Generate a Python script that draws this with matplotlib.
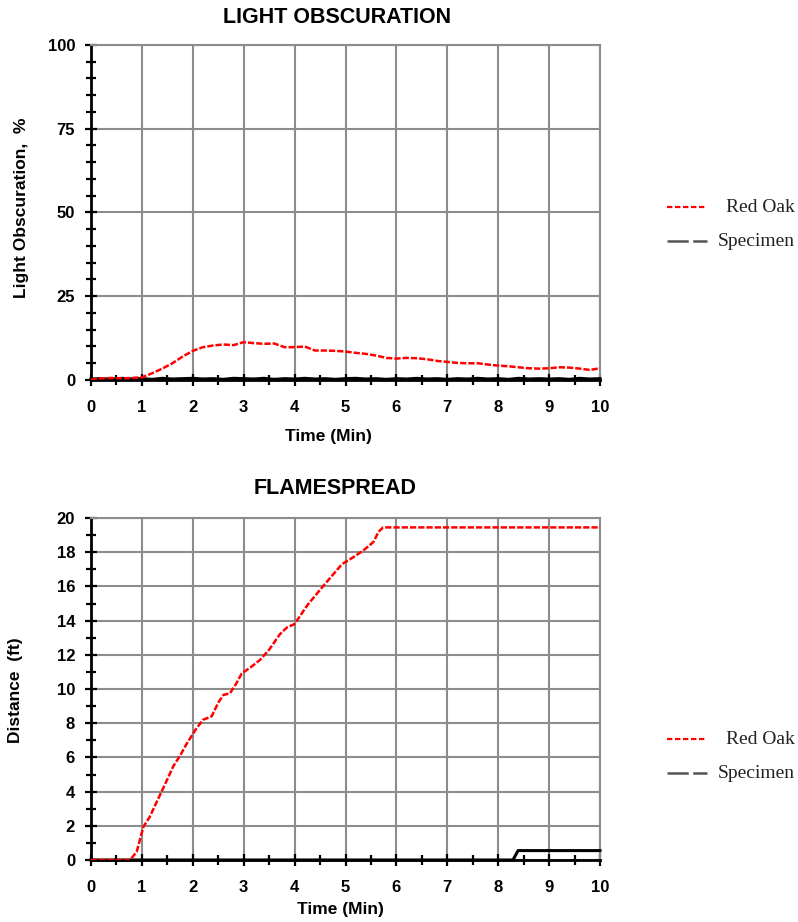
import matplotlib
matplotlib.use("Agg")
import matplotlib.pyplot as plt
from matplotlib.ticker import MultipleLocator
from matplotlib.lines import Line2D
from matplotlib.font_manager import FontProperties

# ---------------- data ----------------
# Light obscuration (%) vs time (min)
lo_time = [0.0, 0.2, 0.4, 0.6, 0.8, 1.0, 1.2, 1.4, 1.6, 1.8, 2.0, 2.2, 2.4, 2.6, 2.8,
           3.0, 3.2, 3.4, 3.6, 3.8, 4.0, 4.2, 4.4, 4.6, 4.8, 5.0, 5.2, 5.4, 5.6, 5.8,
           6.0, 6.2, 6.4, 6.6, 6.8, 7.0, 7.2, 7.4, 7.6, 7.8, 8.0, 8.2, 8.4, 8.6, 8.8,
           9.0, 9.2, 9.4, 9.6, 9.8, 10.0]
lo_red_oak = [0.1, 0.5, 0.6, 0.5, 0.6, 0.8, 2.0, 3.4, 5.0, 7.0, 8.7, 9.8, 10.3, 10.6, 10.4,
              11.3, 11.0, 10.8, 10.9, 9.8, 9.8, 10.0, 8.8, 8.8, 8.7, 8.5, 8.1, 7.8, 7.3, 6.6,
              6.4, 6.6, 6.5, 6.2, 5.7, 5.4, 5.1, 5.0, 5.0, 4.6, 4.3, 4.1, 3.8, 3.5, 3.4,
              3.5, 3.8, 3.7, 3.4, 3.0, 3.5]
lo_specimen = [0.3, 0.4, 0.2, 0.5, 0.3, 0.4, 0.2, 0.5, 0.3, 0.4, 0.5, 0.3, 0.4, 0.2, 0.5,
               0.4, 0.3, 0.5, 0.2, 0.4, 0.3, 0.5, 0.3, 0.4, 0.2, 0.4, 0.5, 0.3, 0.4, 0.2,
               0.4, 0.3, 0.5, 0.3, 0.4, 0.2, 0.4, 0.3, 0.5, 0.3, 0.4, 0.2, 0.5, 0.3, 0.4,
               0.3, 0.4, 0.2, 0.5, 0.3, 0.4]

# Flamespread distance (ft) vs time (min)
fs_time_oak = [0.0, 0.5, 0.77, 0.9, 1.03, 1.15, 1.26, 1.45, 1.62, 1.75, 1.88, 2.05, 2.2,
               2.37, 2.5, 2.6, 2.73, 2.85, 2.96, 3.15, 3.32, 3.5, 3.71, 3.85, 4.0, 4.25,
               4.5, 4.7, 4.93, 5.15, 5.35, 5.55, 5.65, 5.74, 6.0, 7.0, 8.0, 9.0, 10.0]
fs_red_oak = [0.0, 0.0, 0.0, 0.5, 1.95, 2.5, 3.2, 4.4, 5.5, 6.1, 6.8, 7.6, 8.2,
              8.4, 9.2, 9.65, 9.75, 10.3, 10.9, 11.3, 11.7, 12.3, 13.2, 13.6, 13.8, 14.9,
              15.8, 16.5, 17.3, 17.7, 18.1, 18.6, 19.2, 19.45, 19.45, 19.45, 19.45, 19.45, 19.45]
fs_time_spec = [0.0, 8.29, 8.39, 10.0]
fs_specimen = [0.0, 0.0, 0.55, 0.55]

series_labels = ["Red Oak", "Specimen"]

# ---------------- style ----------------
W, H = 798, 922
fig = plt.figure(figsize=(W / 100, H / 100), dpi=100)

tick_fp = FontProperties(family="Liberation Sans", weight="bold", size=12)
label_font = dict(family="Liberation Sans", weight="bold", size=12.5)
title_font = dict(family="Liberation Sans", weight="bold", size=15.5)
grid_color = "#8c8c8c"
red_ls = (0, (2.5, 0.8))


def style_axes(ax, ymax, ymajor, yminor):
    ax.set_xlim(0, 10)
    ax.set_ylim(0, ymax)
    ax.xaxis.set_major_locator(MultipleLocator(1))
    ax.xaxis.set_minor_locator(MultipleLocator(0.5))
    ax.yaxis.set_major_locator(MultipleLocator(ymajor))
    ax.yaxis.set_minor_locator(MultipleLocator(yminor))
    ax.grid(True, which="major", color=grid_color, linewidth=1.5, zorder=0)
    ax.set_axisbelow(True)
    for s in ("top", "right"):
        ax.spines[s].set_color(grid_color)
        ax.spines[s].set_linewidth(1.5)
    for s in ("left", "bottom"):
        ax.spines[s].set_color("black")
        ax.spines[s].set_linewidth(2)
    ax.tick_params(which="major", direction="inout", length=9, width=1.6, color="black")
    ax.tick_params(which="minor", direction="inout", length=7, width=1.6, color="black")
    ax.tick_params(axis="x", which="major", pad=10)
    ax.tick_params(axis="y", which="major", pad=7)
    for lab in ax.get_xticklabels() + ax.get_yticklabels():
        lab.set_fontproperties(tick_fp)


def add_legend(y_rows):
    styles = [dict(color="red", linestyle=(0, (2.4, 1.2)), linewidth=1.6),
              dict(color="#555555", linestyle=(0, (8.5, 1.8)), linewidth=1.8)]
    for label, y, st in zip(series_labels, y_rows, styles):
        fig.add_artist(Line2D([667 / W, 707 / W], [1 - y / H, 1 - y / H],
                              transform=fig.transFigure, **st))
        fig.text(795 / W, 1 - y / H, label, ha="right", va="center",
                 family="Liberation Serif", size=14, color="#222222")


def place_labels(ax, title, title_xy, xlabel, xlabel_xy, ylabel, ylabel_xy):
    ax.set_title(title, x=title_xy[0], y=title_xy[1], pad=0, va="center", **title_font)
    ax.set_xlabel(xlabel, **label_font)
    ax.xaxis.set_label_coords(*xlabel_xy)
    ax.xaxis.label.set_verticalalignment("center")
    ax.set_ylabel(ylabel, **label_font)
    ax.yaxis.set_label_coords(*ylabel_xy)
    ax.yaxis.label.set_verticalalignment("center")


# ---------------- top chart ----------------
ax1 = fig.add_axes([91 / W, 1 - 380 / H, (600 - 91) / W, (380 - 45) / H])
ax1.plot(lo_time, lo_specimen, color="black", linewidth=2.2, zorder=3, clip_on=False)
ax1.plot(lo_time, lo_red_oak, color="red", linewidth=1.8, linestyle=red_ls, zorder=4)
style_axes(ax1, 100, 25, 5)
place_labels(ax1, "LIGHT OBSCURATION", (0.483, 1.082),
             "Time (Min)", (0.466, -0.170),
             "Light Obscuration,  %", (-0.1356, 0.513))
add_legend([207, 241])

# ---------------- bottom chart ----------------
ax2 = fig.add_axes([91 / W, 1 - 860 / H, (600 - 91) / W, (860 - 518) / H])
ax2.plot(fs_time_spec, fs_specimen, color="black", linewidth=2.2, zorder=3, clip_on=False)
ax2.plot(fs_time_oak, fs_red_oak, color="red", linewidth=1.8, linestyle=red_ls, zorder=4)
style_axes(ax2, 20, 2, 1)
place_labels(ax2, "FLAMESPREAD", (0.48, 1.085),
             "Time (Min)", (0.491, -0.146),
             "Distance  (ft)", (-0.149, 0.497))
add_legend([739, 773])

fig.savefig("out.png", dpi=100)
